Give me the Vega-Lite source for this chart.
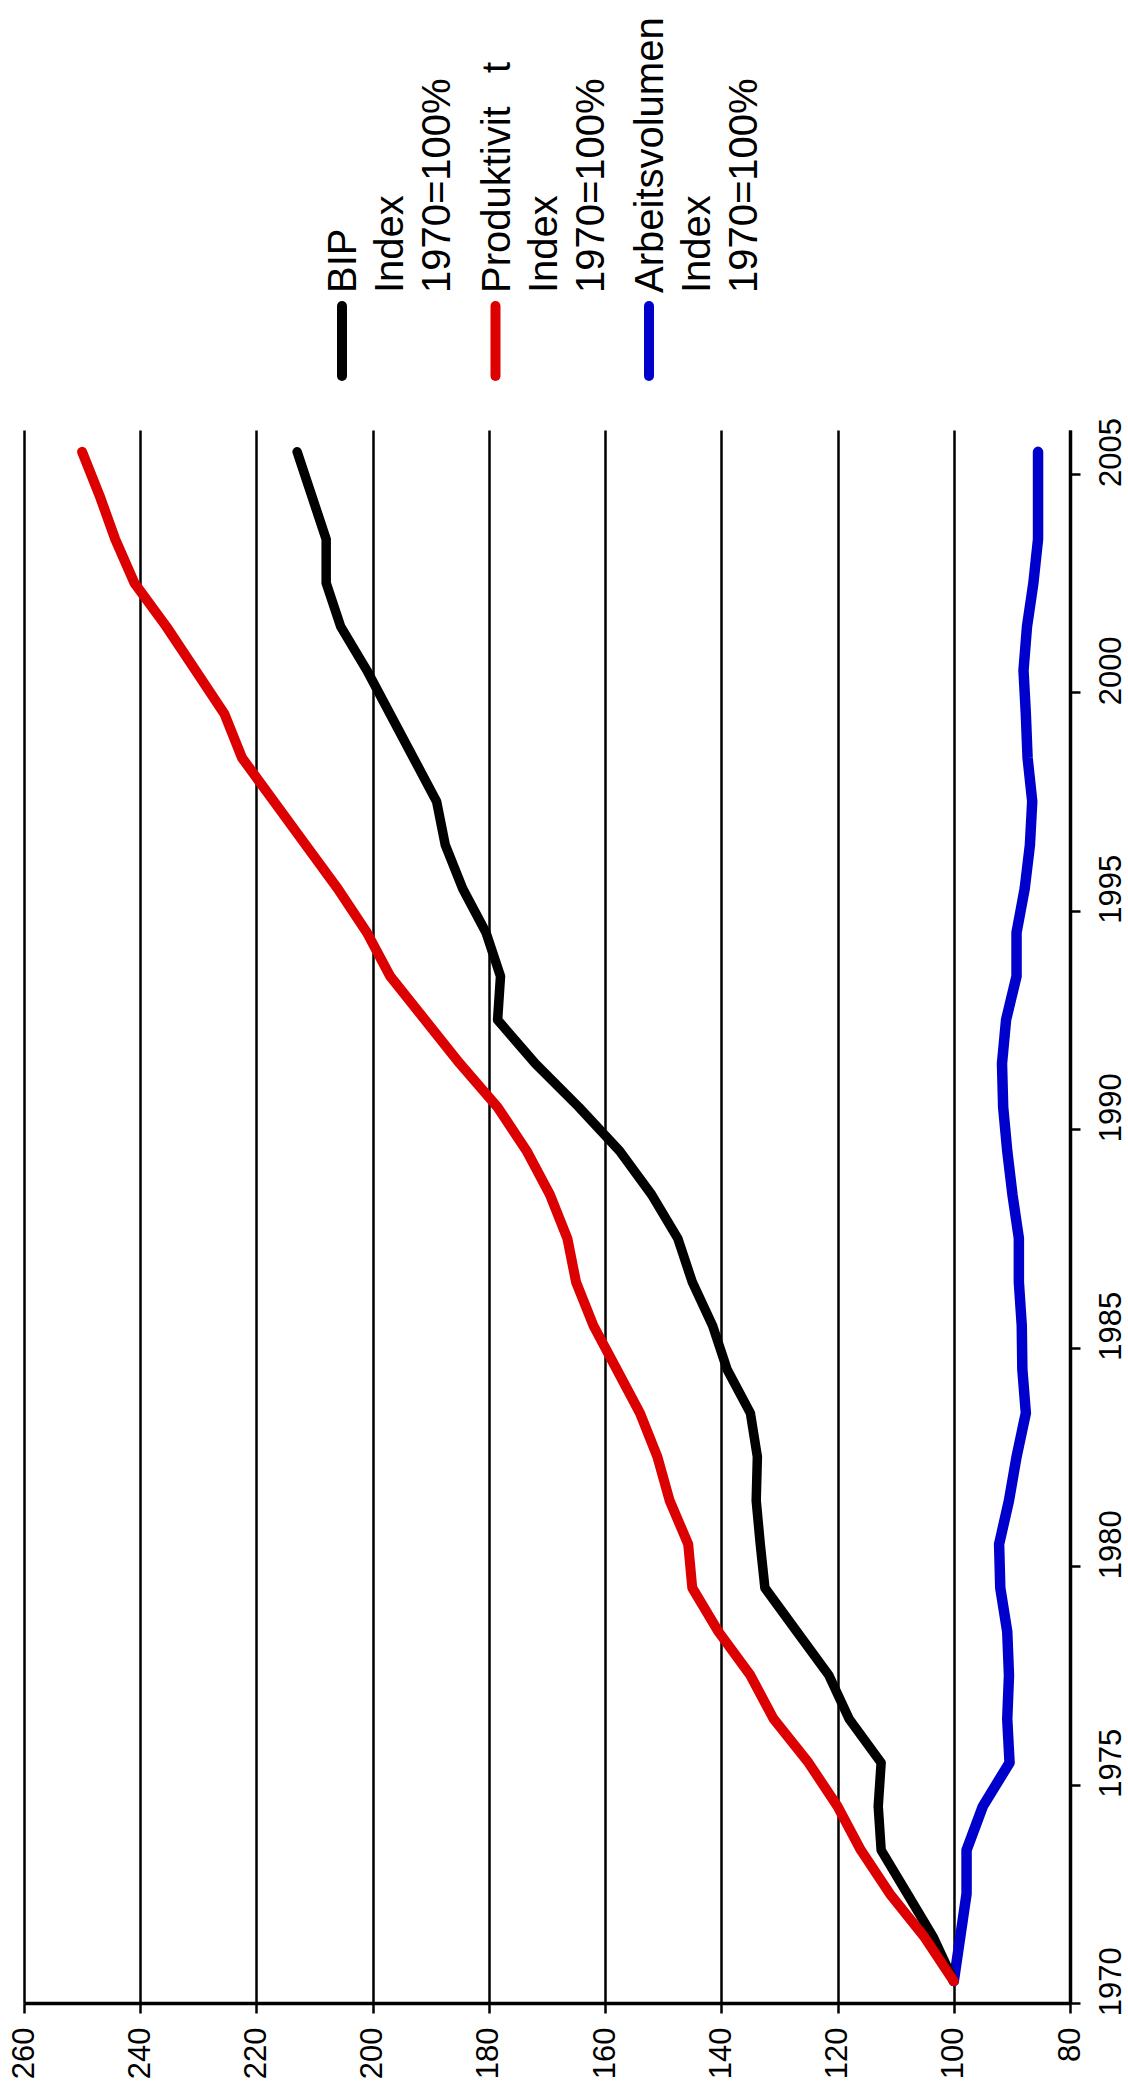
{
  "$schema": "https://vega.github.io/schema/vega-lite/v6.json",
  "background": "white",
  "padding": {"left": 8, "top": 17, "right": 5, "bottom": 5},
  "config": {"view": {"stroke": null}, "font": "Liberation Sans", "concat": {"spacing": 36}},
  "datasets": {
    "legend": [
      {"series": "BIP", "label": "BIP\nIndex\n1970=100%"},
      {"series": "Produktivität", "label": "Produktivit\u00a0\u00a0\u00a0t\nIndex\n1970=100%"},
      {"series": "Arbeitsvolumen", "label": "Arbeitsvolumen\nIndex\n1970=100%"}
    ],
    "lines": [
      {"series":"Arbeitsvolumen","year":1970,"value":100},{"series":"Arbeitsvolumen","year":1971,"value":98.9},{"series":"Arbeitsvolumen","year":1972,"value":97.8},{"series":"Arbeitsvolumen","year":1973,"value":97.8},{"series":"Arbeitsvolumen","year":1974,"value":95.0},{"series":"Arbeitsvolumen","year":1975,"value":90.4},{"series":"Arbeitsvolumen","year":1976,"value":90.8},{"series":"Arbeitsvolumen","year":1977,"value":90.5},{"series":"Arbeitsvolumen","year":1978,"value":90.8},{"series":"Arbeitsvolumen","year":1979,"value":92.0},{"series":"Arbeitsvolumen","year":1980,"value":92.2},{"series":"Arbeitsvolumen","year":1981,"value":90.5},{"series":"Arbeitsvolumen","year":1982,"value":89.2},{"series":"Arbeitsvolumen","year":1983,"value":87.6},{"series":"Arbeitsvolumen","year":1984,"value":88.2},{"series":"Arbeitsvolumen","year":1985,"value":88.3},{"series":"Arbeitsvolumen","year":1986,"value":88.8},{"series":"Arbeitsvolumen","year":1987,"value":88.8},{"series":"Arbeitsvolumen","year":1988,"value":89.9},{"series":"Arbeitsvolumen","year":1989,"value":90.8},{"series":"Arbeitsvolumen","year":1990,"value":91.5},{"series":"Arbeitsvolumen","year":1991,"value":91.7},{"series":"Arbeitsvolumen","year":1992,"value":91.0},{"series":"Arbeitsvolumen","year":1993,"value":89.2},{"series":"Arbeitsvolumen","year":1994,"value":89.2},{"series":"Arbeitsvolumen","year":1995,"value":87.8},{"series":"Arbeitsvolumen","year":1996,"value":86.9},{"series":"Arbeitsvolumen","year":1997,"value":86.5},{"series":"Arbeitsvolumen","year":1998,"value":87.3},{"series":"Arbeitsvolumen","year":1999,"value":87.6},{"series":"Arbeitsvolumen","year":2000,"value":88.0},{"series":"Arbeitsvolumen","year":2001,"value":87.4},{"series":"Arbeitsvolumen","year":2002,"value":86.3},{"series":"Arbeitsvolumen","year":2003,"value":85.5},{"series":"Arbeitsvolumen","year":2004,"value":85.5},{"series":"Arbeitsvolumen","year":2005,"value":85.5},
      {"series":"BIP","year":1970,"value":100},{"series":"BIP","year":1971,"value":103.5},{"series":"BIP","year":1972,"value":108},{"series":"BIP","year":1973,"value":112.5},{"series":"BIP","year":1974,"value":113},{"series":"BIP","year":1975,"value":112.5},{"series":"BIP","year":1976,"value":118},{"series":"BIP","year":1977,"value":121.5},{"series":"BIP","year":1978,"value":127},{"series":"BIP","year":1979,"value":132.5},{"series":"BIP","year":1980,"value":133.3},{"series":"BIP","year":1981,"value":134},{"series":"BIP","year":1982,"value":133.8},{"series":"BIP","year":1983,"value":135},{"series":"BIP","year":1984,"value":139},{"series":"BIP","year":1985,"value":141.5},{"series":"BIP","year":1986,"value":145},{"series":"BIP","year":1987,"value":147.5},{"series":"BIP","year":1988,"value":152},{"series":"BIP","year":1989,"value":157.5},{"series":"BIP","year":1990,"value":164.5},{"series":"BIP","year":1991,"value":172},{"series":"BIP","year":1992,"value":178.5},{"series":"BIP","year":1993,"value":178},{"series":"BIP","year":1994,"value":180.5},{"series":"BIP","year":1995,"value":184.5},{"series":"BIP","year":1996,"value":187.5},{"series":"BIP","year":1997,"value":189},{"series":"BIP","year":1998,"value":193},{"series":"BIP","year":1999,"value":197},{"series":"BIP","year":2000,"value":201},{"series":"BIP","year":2001,"value":205.5},{"series":"BIP","year":2002,"value":208},{"series":"BIP","year":2003,"value":208},{"series":"BIP","year":2004,"value":210.5},{"series":"BIP","year":2005,"value":213},
      {"series":"Produktivität","year":1970,"value":100},{"series":"Produktivität","year":1971,"value":105},{"series":"Produktivität","year":1972,"value":111},{"series":"Produktivität","year":1973,"value":116},{"series":"Produktivität","year":1974,"value":120},{"series":"Produktivität","year":1975,"value":125},{"series":"Produktivität","year":1976,"value":131},{"series":"Produktivität","year":1977,"value":135},{"series":"Produktivität","year":1978,"value":140.5},{"series":"Produktivität","year":1979,"value":145},{"series":"Produktivität","year":1980,"value":145.7},{"series":"Produktivität","year":1981,"value":148.9},{"series":"Produktivität","year":1982,"value":151},{"series":"Produktivität","year":1983,"value":154},{"series":"Produktivität","year":1984,"value":158},{"series":"Produktivität","year":1985,"value":162},{"series":"Produktivität","year":1986,"value":165},{"series":"Produktivität","year":1987,"value":166.5},{"series":"Produktivität","year":1988,"value":169.5},{"series":"Produktivität","year":1989,"value":173.5},{"series":"Produktivität","year":1990,"value":178.5},{"series":"Produktivität","year":1991,"value":185},{"series":"Produktivität","year":1992,"value":191},{"series":"Produktivität","year":1993,"value":197},{"series":"Produktivität","year":1994,"value":201},{"series":"Produktivität","year":1995,"value":206},{"series":"Produktivität","year":1996,"value":211.5},{"series":"Produktivität","year":1997,"value":217},{"series":"Produktivität","year":1998,"value":222.5},{"series":"Produktivität","year":1999,"value":225.5},{"series":"Produktivität","year":2000,"value":230.5},{"series":"Produktivität","year":2001,"value":235.5},{"series":"Produktivität","year":2002,"value":241},{"series":"Produktivität","year":2003,"value":244.3},{"series":"Produktivität","year":2004,"value":247},{"series":"Produktivität","year":2005,"value":250}
    ]
  },
  "vconcat": [
    {
      "width": 1046,
      "height": 70,
      "data": {"name": "legend"},
      "encoding": {
        "x": {"field": "series", "type": "nominal", "sort": null, "scale": {"type": "point", "range": [318, 625], "padding": 0}, "axis": null}
      },
      "layer": [
        {
          "mark": {"type": "rule", "strokeWidth": 10, "strokeCap": "round"},
          "encoding": {
            "color": {"field": "series", "type": "nominal", "scale": {"domain": ["BIP", "Produktivität", "Arbeitsvolumen"], "range": ["#000000", "#dd0000", "#0000cc"]}, "legend": null}
          }
        },
        {
          "mark": {"type": "text", "angle": 270, "align": "left", "baseline": "alphabetic", "fontSize": 40, "lineHeight": 47, "lineBreak": "\n", "dx": 48, "dy": 14, "color": "black"},
          "encoding": {"text": {"field": "label", "type": "nominal"}}
        }
      ]
    },
    {
      "width": 1046,
      "height": 1573,
      "data": {"name": "lines"},
      "mark": {"type": "line", "strokeCap": "round", "strokeJoin": "round"},
      "encoding": {
        "y": {
          "field": "year", "type": "quantitative",
          "scale": {"domain": [1969.5, 2005.5], "nice": false, "zero": false},
          "axis": {
            "orient": "right", "title": null, "grid": false,
            "values": [1969.5, 1974.5, 1979.5, 1984.5, 1989.5, 1994.5, 1999.5, 2004.5],
            "labelExpr": "format(datum.value + 0.5, 'd')",
            "labelAngle": 270, "labelAlign": "center", "labelBaseline": "top",
            "labelOffset": -21.8, "labelPadding": 16, "labelFontSize": 31, "labelColor": "black",
            "labelOverlap": false, "labelFlush": false, "labelBound": false,
            "tickSize": 10, "tickWidth": 2.5, "tickColor": "black",
            "domainColor": "black", "domainWidth": 3.5
          }
        },
        "x": {
          "field": "value", "type": "quantitative",
          "scale": {"domain": [80, 260], "reverse": true, "nice": false, "zero": false},
          "axis": {
            "orient": "bottom", "title": null,
            "values": [80, 100, 120, 140, 160, 180, 200, 220, 240, 260],
            "labelAngle": 270, "labelAlign": "right", "labelBaseline": "middle",
            "labelPadding": 14, "labelFontSize": 31, "labelColor": "black",
            "labelOverlap": false, "labelFlush": false, "labelBound": false,
            "grid": true, "gridColor": "black", "gridWidth": 2.5, "gridOpacity": 1,
            "tickSize": 10, "tickWidth": 2.5, "tickColor": "black",
            "domainColor": "black", "domainWidth": 3.5
          }
        },
        "color": {"field": "series", "type": "nominal", "scale": {"domain": ["BIP", "Produktivität", "Arbeitsvolumen"], "range": ["#000000", "#dd0000", "#0000cc"]}, "legend": null},
        "strokeWidth": {"field": "series", "type": "nominal", "scale": {"domain": ["BIP", "Produktivität", "Arbeitsvolumen"], "range": [9.5, 10.5, 7.5]}, "legend": null},
        "order": {"field": "year", "type": "quantitative"}
      }
    }
  ]
}
